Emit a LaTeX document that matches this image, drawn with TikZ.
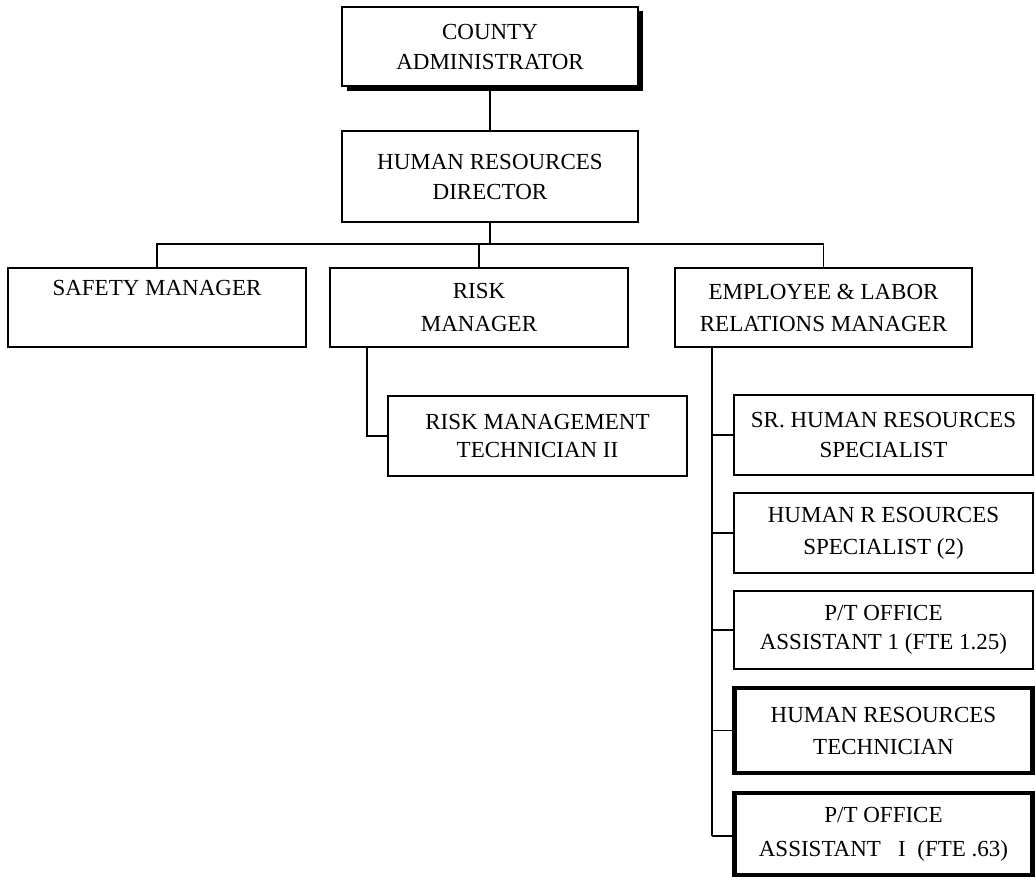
\documentclass[tikz,border=0pt]{standalone}
\usepackage{fontspec}
\setmainfont{Liberation Serif}
\begin{document}
\begin{tikzpicture}[x=1pt,y=-1pt,
  orgbox/.style={draw, line width=1.6pt, rectangle, align=center, inner sep=0pt, fill=white,
    font=\fontsize{23}{30}\selectfont},
  heavybox/.style={orgbox, line width=4.5pt},
  link/.style={line width=1.6pt},
  shadowline/.style={line width=3.5pt}]
\useasboundingbox (0,0) rectangle (1036,879);
% top box with shadow
\draw[shadowline] (347,89) -- (641,89) -- (641,11);
\node[orgbox, minimum width=296pt, minimum height=79pt] (top) at (490,46.5) {COUNTY\\ADMINISTRATOR};
\node[orgbox, minimum width=296pt, minimum height=91pt] (hrd) at (490,176.5) {HUMAN RESOURCES\\DIRECTOR};
% second row
\node[orgbox, minimum width=298pt, minimum height=79pt] (safety) at (157,307.5) {SAFETY MANAGER\\\strut};
\node[orgbox, minimum width=298pt, minimum height=79pt, font=\fontsize{23}{33}\selectfont] (risk) at (479,307.5) {RISK\\MANAGER};
\node[orgbox, minimum width=297pt, minimum height=79pt, font=\fontsize{23}{32}\selectfont] (elr) at (823.5,307.5) {EMPLOYEE \& LABOR\\RELATIONS MANAGER};
% risk branch
\node[orgbox, minimum width=299pt, minimum height=80pt, font=\fontsize{23}{28}\selectfont] (rmt) at (537.5,436) {RISK MANAGEMENT\\TECHNICIAN II};
% employee branch
\node[orgbox, minimum width=299pt, minimum height=80pt] (srhr) at (883.5,435) {SR. HUMAN RESOURCES\\SPECIALIST};
\node[orgbox, minimum width=299pt, minimum height=80pt, font=\fontsize{23}{32}\selectfont] (hrs) at (883.5,533) {HUMAN R ESOURCES\\SPECIALIST (2)};
\node[orgbox, minimum width=299pt, minimum height=78pt, font=\fontsize{23}{29}\selectfont] (pt1) at (883.5,630) {P/T OFFICE\\ASSISTANT 1 (FTE 1.25)};
\node[heavybox, minimum width=298pt, minimum height=85pt, font=\fontsize{23}{32}\selectfont] (hrt) at (883.5,730.5) {HUMAN RESOURCES\\TECHNICIAN};
\node[heavybox, minimum width=298pt, minimum height=82pt, font=\fontsize{23}{34}\selectfont] (pt2) at (883.5,834) {P/T OFFICE\\ASSISTANT\ \ \ I\ \ (FTE .63)};
% connectors
\coordinate (bus) at (490,244);
\draw[link] (top.south) -- (hrd.north);
\draw[link] (hrd.south) -- (bus);
\draw[link] (safety.north) |- (bus) -| (elr.north);
\draw[link] (risk.north) -- (risk.north |- bus);
\coordinate (rdrop) at (367,347);
\draw[link] (rdrop) |- (rmt.west);
\coordinate (spinetop) at (712,347);
\coordinate (spinebot) at (712,836);
\draw[link] (spinetop) -- (spinebot);
\draw[link] (spinetop |- srhr.west) -- (srhr.west);
\draw[link] (spinetop |- hrs.west) -- (hrs.west);
\draw[link] (spinetop |- pt1.west) -- (pt1.west);
\draw[link] (spinetop |- hrt.west) -- (hrt.west);
\draw[link] (spinebot) -- (spinebot -| pt2.west);
\end{tikzpicture}
\end{document}
